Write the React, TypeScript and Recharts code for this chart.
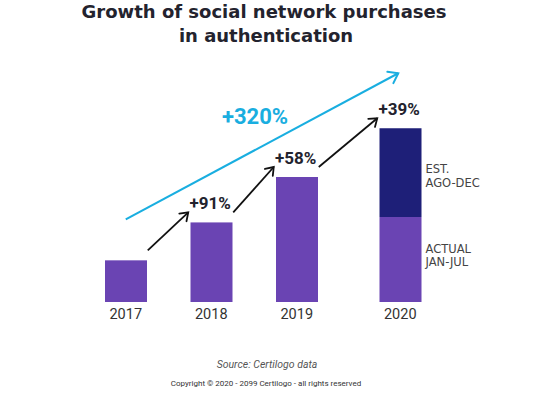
import { Bar, BarChart, LabelList, ReferenceLine, XAxis, YAxis } from "recharts";

const YEARS = ["2017", "2018", "2019", "2020"];
const ACTUAL = [100, 191, 300, 204];
const ESTIMATE = [null, null, null, 213];
const GROWTH = ["", "+91%", "+58%", "+39%"];
const TOTAL_GROWTH = "+320%";
const ACTUAL_NOTE = ["ACTUAL", "JAN-JUL"];
const ESTIMATE_NOTE = ["EST.", "AGO-DEC"];

const Y_MAX = 600;
const PURPLE = "#6a44b3";
const NAVY = "#1e1f78";
const CYAN = "#19aee0";
const DARK = "#23232e";
const FONT = "Roboto, 'Liberation Sans', sans-serif";
const WIDE_FONT = "'DejaVu Sans', sans-serif";
// the last bar sits a little further right than the even spacing
const LAST_SHIFT = 18;
const HALF_BAR = 21;

const data = YEARS.map((year, i) => ({
  year,
  actual: ACTUAL[i],
  estimate: ESTIMATE[i],
  total: ACTUAL[i] + (ESTIMATE[i] ?? 0),
}));

const shiftFor = (year: string) =>
  year === YEARS[YEARS.length - 1] ? LAST_SHIFT : 0;

function Arrow({ x1, y1, x2, y2, color, width, head }: any) {
  const a = Math.atan2(y2 - y1, x2 - x1);
  const spread = 0.62;
  const p1 = `${x2 - head * Math.cos(a - spread)},${y2 - head * Math.sin(a - spread)}`;
  const p2 = `${x2 - head * Math.cos(a + spread)},${y2 - head * Math.sin(a + spread)}`;
  return (
    <g>
      <line x1={x1} y1={y1} x2={x2} y2={y2} stroke={color} strokeWidth={width} />
      <polyline
        points={`${p1} ${x2},${y2} ${p2}`}
        fill="none"
        stroke={color}
        strokeWidth={width}
        strokeLinecap="round"
        strokeLinejoin="miter"
      />
    </g>
  );
}

const shiftedBar = (fill: string) => (props: any) => {
  const { x, y, width, height, payload } = props;
  if (!height || height <= 0) return <g />;
  return (
    <rect
      x={x + shiftFor(payload.year)}
      y={y}
      width={width}
      height={height}
      fill={fill}
    />
  );
};

const YearTick = ({ x, y, payload }: any) => (
  <text
    x={x + shiftFor(payload.value)}
    y={y + 9}
    textAnchor="middle"
    fontFamily={FONT}
    fontSize={14.5}
    fill="#333"
  >
    {payload.value}
  </text>
);

const seriesNote = (lines: string[], dy: number) => (props: any) => {
  const { x, y, width, height, index } = props;
  if (index !== YEARS.length - 1) return <g />;
  const left = x + width + shiftFor(YEARS[index]) + 4;
  const mid = y + height / 2 + dy;
  return (
    <text fontFamily={WIDE_FONT} fontSize={11.5} fill="#444">
      {lines.map((line, i) => (
        <tspan key={line} x={left} y={mid + i * 13.5}>
          {line}
        </tspan>
      ))}
    </text>
  );
};

const growthShape = (i: number) => (props: any) => {
  const { x1, y1, x2, y2 } = props;
  const sx = x1 + shiftFor(YEARS[i - 1]) + HALF_BAR + 1;
  const ex = x2 + shiftFor(YEARS[i]) - HALF_BAR - 2;
  return (
    <g>
      <Arrow x1={sx} y1={y1 - 10} x2={ex} y2={y2 - 10} color="#111" width={1.8} head={9} />
      <text
        x={x2 + shiftFor(YEARS[i]) - 1}
        y={y2 - 13}
        textAnchor="middle"
        fontFamily={FONT}
        fontWeight={700}
        fontSize={17}
        fill={DARK}
      >
        {GROWTH[i]}
      </text>
    </g>
  );
};

const totalShape = (props: any) => {
  const { x1, y1, x2, y2 } = props;
  const sx = x1;
  const sy = y1 - 41;
  const ex = x2 + LAST_SHIFT - 2;
  const ey = y2 - 55;
  return (
    <g>
      <Arrow x1={sx} y1={sy} x2={ex} y2={ey} color={CYAN} width={2} head={11} />
      <text
        x={(sx + ex) / 2 - 7}
        y={(sy + ey) / 2 - 22}
        textAnchor="middle"
        fontFamily={FONT}
        fontWeight={700}
        fontSize={22}
        fill={CYAN}
      >
        {TOTAL_GROWTH}
      </text>
    </g>
  );
};

export default function App() {
  const last = data.length - 1;
  return (
    <div style={{ position: "absolute", left: 0, top: 0, width: 533, height: 398, background: "#fff" }}>
      <svg width={533} height={398} style={{ position: "absolute", left: 0, top: 0 }}>
        <text x={264} y={18} textAnchor="middle" fontFamily={WIDE_FONT} fontWeight={700} fontSize={18} fill={DARK}>
          Growth of social network purchases
        </text>
        <text x={266} y={42} textAnchor="middle" fontFamily={WIDE_FONT} fontWeight={700} fontSize={18} fill={DARK}>
          in authentication
        </text>
        <text x={267} y={368} textAnchor="middle" fontFamily={FONT} fontStyle="italic" fontSize={10.5} fill="#555">
          Source: Certilogo data
        </text>
        <text x={266} y={386} textAnchor="middle" fontFamily={FONT} fontSize={8} fill="#333">
          Copyright © 2020 - 2099 Certilogo - all rights reserved
        </text>
      </svg>
      <div style={{ position: "absolute", left: 0, top: 0 }}>
        <BarChart
          width={533}
          height={398}
          data={data}
          barSize={42}
          margin={{ top: 52, right: 108, bottom: 66, left: 83 }}
        >
          <XAxis
            dataKey="year"
            axisLine={false}
            tickLine={false}
            height={30}
            interval={0}
            tick={<YearTick />}
          />
          <YAxis hide domain={[0, Y_MAX]} />
          <Bar dataKey="actual" stackId="a" fill={PURPLE} shape={shiftedBar(PURPLE)} isAnimationActive={false}>
            <LabelList dataKey="actual" content={seriesNote(ACTUAL_NOTE, -7)} />
          </Bar>
          <Bar dataKey="estimate" stackId="a" fill={NAVY} shape={shiftedBar(NAVY)} isAnimationActive={false}>
            <LabelList dataKey="estimate" content={seriesNote(ESTIMATE_NOTE, 0.5)} />
          </Bar>
          {YEARS.slice(1).map((year, k) => (
            <ReferenceLine
              key={year}
              ifOverflow="visible"
              segment={[
                { x: YEARS[k], y: data[k].total },
                { x: year, y: data[k + 1].total },
              ]}
              shape={growthShape(k + 1)}
            />
          ))}
          <ReferenceLine
            ifOverflow="visible"
            segment={[
              { x: YEARS[0], y: data[0].total },
              { x: YEARS[last], y: data[last].total },
            ]}
            shape={totalShape}
          />
        </BarChart>
      </div>
    </div>
  );
}
